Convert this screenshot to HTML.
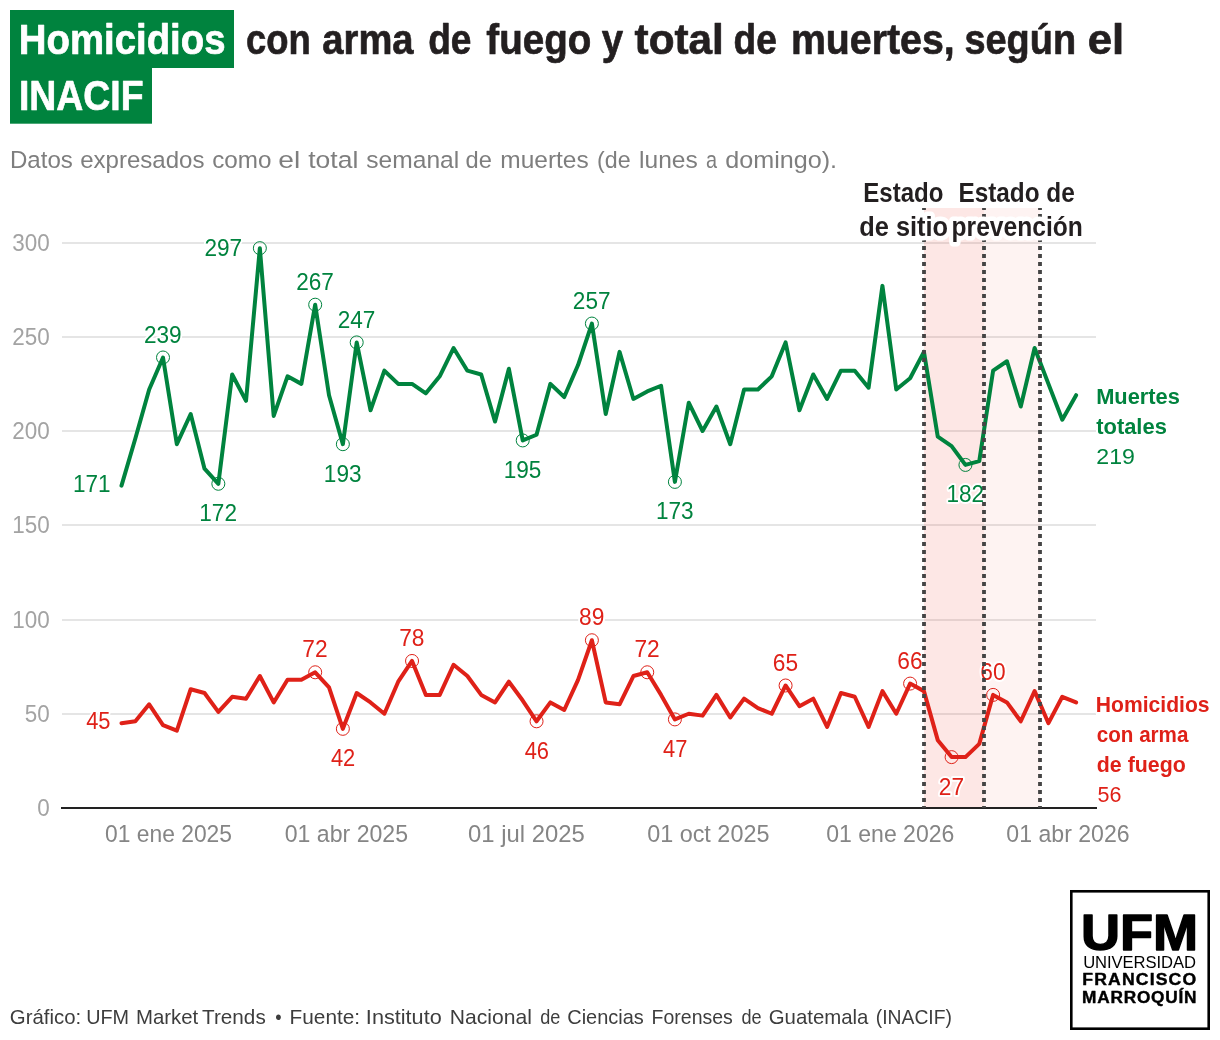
<!DOCTYPE html>
<html lang="es">
<head>
<meta charset="utf-8">
<title>Homicidios con arma de fuego y total de muertes, según el INACIF</title>
<style>
html,body{margin:0;padding:0;background:#fff}
body{width:1220px;height:1040px;overflow:hidden;font-family:"Liberation Sans",sans-serif}
svg{display:block;font-family:"Liberation Sans",sans-serif}
text{white-space:pre}
</style>
</head>
<body>
<svg width="1220" height="1040" viewBox="0 0 1220 1040">
<rect width="1220" height="1040" fill="#fff"/>
<!-- headline -->
<g id="headline">
<rect x="10" y="10" width="224" height="58" fill="#00833e"/>
<rect x="10" y="67" width="142" height="56.7" fill="#00833e"/>
<g font-size="43.03" fill="#fff" font-weight="700" stroke="#fff" stroke-width="0.7" stroke-linejoin="round">
<text x="18.87" y="53.8" textLength="206.61" lengthAdjust="spacingAndGlyphs">Homicidios</text>
<text x="18.91" y="109.7" textLength="124.65" lengthAdjust="spacingAndGlyphs">INACIF</text>
</g>
<g font-size="43.03" fill="#231f20" font-weight="700" stroke="#231f20" stroke-width="0.7" stroke-linejoin="round">
<text x="246" y="53.8" textLength="64.77" lengthAdjust="spacingAndGlyphs">con</text>
<text x="322.36" y="53.8" textLength="91.23" lengthAdjust="spacingAndGlyphs">arma</text>
<text x="428.19" y="53.8" textLength="43.26" lengthAdjust="spacingAndGlyphs">de</text>
<text x="486.35" y="53.8" textLength="104.94" lengthAdjust="spacingAndGlyphs">fuego</text>
<text x="601.85" y="53.8" textLength="21.43" lengthAdjust="spacingAndGlyphs">y</text>
<text x="634.55" y="53.8" textLength="89.3" lengthAdjust="spacingAndGlyphs">total</text>
<text x="733.59" y="53.8" textLength="43.26" lengthAdjust="spacingAndGlyphs">de</text>
<text x="790.92" y="53.8" textLength="163.81" lengthAdjust="spacingAndGlyphs">muertes,</text>
<text x="964.47" y="53.8" textLength="111.59" lengthAdjust="spacingAndGlyphs">según</text>
<text x="1087.73" y="53.8" textLength="36.52" lengthAdjust="spacingAndGlyphs">el</text>
</g>
</g>
<!-- description -->
<g id="description">
<g font-size="24.65" fill="#7e7e7e">
<text x="9.95" y="167.8" textLength="62.86" lengthAdjust="spacingAndGlyphs">Datos</text>
<text x="80.22" y="167.8" textLength="124.28" lengthAdjust="spacingAndGlyphs">expresados</text>
<text x="212.22" y="167.8" textLength="59.27" lengthAdjust="spacingAndGlyphs">como</text>
<text x="278.36" y="167.8" textLength="21.93" lengthAdjust="spacingAndGlyphs">el</text>
<text x="308.2" y="167.8" textLength="50.08" lengthAdjust="spacingAndGlyphs">total</text>
<text x="366.3" y="167.8" textLength="92.87" lengthAdjust="spacingAndGlyphs">semanal</text>
<text x="465.54" y="167.8" textLength="26.33" lengthAdjust="spacingAndGlyphs">de</text>
<text x="500.31" y="167.8" textLength="88.4" lengthAdjust="spacingAndGlyphs">muertes</text>
<text x="597.06" y="167.8" textLength="33.6" lengthAdjust="spacingAndGlyphs">(de</text>
<text x="639.1" y="167.8" textLength="58.71" lengthAdjust="spacingAndGlyphs">lunes</text>
<text x="705.99" y="167.8" textLength="11.06" lengthAdjust="spacingAndGlyphs">a</text>
<text x="725.28" y="167.8" textLength="111.8" lengthAdjust="spacingAndGlyphs">domingo).</text>
</g>
</g>
<!-- chart -->
<g id="chart">
<g id="grid" stroke="#e5e5e5" stroke-width="2" shape-rendering="crispEdges">
<line x1="62" x2="1096" y1="714" y2="714"/>
<line x1="62" x2="1096" y1="620" y2="620"/>
<line x1="62" x2="1096" y1="525" y2="525"/>
<line x1="62" x2="1096" y1="431" y2="431"/>
<line x1="62" x2="1096" y1="337" y2="337"/>
<line x1="62" x2="1096" y1="243" y2="243"/>
</g>
<g id="range-annotations" fill="#ee3726">
<rect x="924" y="208" width="60" height="600" fill-opacity="0.12"/>
<rect x="984" y="208" width="56" height="600" fill-opacity="0.06"/>
</g>
<g id="y-axis">
<g font-size="24.48" fill="#a3a3a3">
<text x="37.27" y="815.7" textLength="12.49" lengthAdjust="spacingAndGlyphs">0</text>
<text x="24.79" y="721.7" textLength="24.97" lengthAdjust="spacingAndGlyphs">50</text>
<text x="12.3" y="627.7" textLength="37.46" lengthAdjust="spacingAndGlyphs">100</text>
<text x="12.3" y="532.7" textLength="37.46" lengthAdjust="spacingAndGlyphs">150</text>
<text x="12.3" y="438.7" textLength="37.46" lengthAdjust="spacingAndGlyphs">200</text>
<text x="12.3" y="344.7" textLength="37.46" lengthAdjust="spacingAndGlyphs">250</text>
<text x="12.3" y="250.7" textLength="37.46" lengthAdjust="spacingAndGlyphs">300</text>
</g>
</g>
<g id="x-axis">
<g font-size="24.3" fill="#858585">
<text x="105.05" y="841.7" textLength="126.98" lengthAdjust="spacingAndGlyphs">01 ene 2025</text>
<text x="284.75" y="841.7" textLength="123.29" lengthAdjust="spacingAndGlyphs">01 abr 2025</text>
<text x="468.05" y="841.7" textLength="116.7" lengthAdjust="spacingAndGlyphs">01 jul 2025</text>
<text x="647.15" y="841.7" textLength="122.29" lengthAdjust="spacingAndGlyphs">01 oct 2025</text>
<text x="826.25" y="841.7" textLength="128.09" lengthAdjust="spacingAndGlyphs">01 ene 2026</text>
<text x="1006.35" y="841.7" textLength="123.29" lengthAdjust="spacingAndGlyphs">01 abr 2026</text>
</g>
</g>
<line id="baseline" x1="61" x2="1097" y1="808" y2="808" stroke="#222" stroke-width="2" shape-rendering="crispEdges"/>
<g id="lines" fill="none" stroke-width="4" stroke-linejoin="round" stroke-linecap="round">
<path stroke="#00833e" d="M121.5,485.67 L135.34,438.54 L149.17,389.53 L163,357.49 L176.84,444.19 L190.68,414.04 L204.51,468.7 L218.34,483.78 L232.18,374.45 L246.02,400.84 L259.85,248.15 L273.69,415.92 L287.52,376.33 L301.36,383.88 L315.19,304.7 L329.02,395.19 L342.86,444.19 L356.7,342.4 L370.53,410.26 L384.37,370.68 L398.2,383.88 L412.04,383.88 L425.87,393.3 L439.71,376.33 L453.54,348.06 L467.38,370.68 L481.21,374.45 L495.05,421.57 L508.88,368.8 L522.72,440.43 L536.55,434.77 L550.38,383.88 L564.22,397.07 L578.06,365.02 L591.89,323.56 L605.73,414.04 L619.56,351.83 L633.39,398.95 L647.23,391.42 L661.07,385.76 L674.9,481.89 L688.74,402.73 L702.57,431 L716.41,406.5 L730.24,444.19 L744.08,389.53 L757.91,389.53 L771.75,376.33 L785.58,342.4 L799.42,410.26 L813.25,374.45 L827.09,398.95 L840.92,370.68 L854.75,370.68 L868.59,387.64 L882.43,285.86 L896.26,389.53 L910.1,378.22 L923.93,351.83 L937.77,436.65 L951.6,446.08 L965.44,464.93 L979.27,461.16 L993.11,370.68 L1006.94,361.25 L1020.78,406.5 L1034.61,348.06 L1048.45,383.88 L1062.28,419.69 L1076.12,395.19"/>
<path stroke="#df2118" d="M121.5,723.17 L135.34,721.29 L149.17,704.33 L163,725.06 L176.84,730.72 L190.68,689.25 L204.51,693.01 L218.34,711.87 L232.18,696.78 L246.02,698.67 L259.85,676.05 L273.69,702.44 L287.52,679.82 L301.36,679.82 L315.19,672.28 L329.02,687.36 L342.86,728.83 L356.7,693.01 L370.53,702.44 L384.37,713.75 L398.2,681.71 L412.04,660.97 L425.87,694.9 L439.71,694.9 L453.54,664.74 L467.38,676.05 L481.21,694.9 L495.05,702.44 L508.88,681.71 L522.72,700.55 L536.55,721.29 L550.38,702.44 L564.22,709.98 L578.06,679.82 L591.89,640.24 L605.73,702.44 L619.56,704.33 L633.39,676.05 L647.23,672.28 L661.07,694.9 L674.9,719.4 L688.74,713.75 L702.57,715.63 L716.41,694.9 L730.24,717.52 L744.08,698.67 L757.91,708.1 L771.75,713.75 L785.58,685.48 L799.42,706.21 L813.25,698.67 L827.09,726.94 L840.92,693.01 L854.75,696.78 L868.59,726.94 L882.43,691.13 L896.26,713.75 L910.1,683.59 L923.93,691.13 L937.77,740.14 L951.6,757.11 L965.44,757.11 L979.27,743.91 L993.11,694.9 L1006.94,702.44 L1020.78,721.29 L1034.61,691.13 L1048.45,723.17 L1062.28,696.78 L1076.12,702.44"/>
</g>
<g id="markers" fill="none" stroke-width="1">
<g stroke="#00833e">
<circle cx="163" cy="357.49" r="6.5"/>
<circle cx="218.34" cy="483.78" r="6.5"/>
<circle cx="259.85" cy="248.15" r="6.5"/>
<circle cx="315.19" cy="304.7" r="6.5"/>
<circle cx="342.86" cy="444.19" r="6.5"/>
<circle cx="356.7" cy="342.4" r="6.5"/>
<circle cx="522.72" cy="440.43" r="6.5"/>
<circle cx="591.89" cy="323.56" r="6.5"/>
<circle cx="674.9" cy="481.89" r="6.5"/>
<circle cx="965.44" cy="464.93" r="6.5"/>
</g>
<g stroke="#df2118">
<circle cx="315.19" cy="672.28" r="6.5"/>
<circle cx="342.86" cy="728.83" r="6.5"/>
<circle cx="412.04" cy="660.97" r="6.5"/>
<circle cx="536.55" cy="721.29" r="6.5"/>
<circle cx="591.89" cy="640.24" r="6.5"/>
<circle cx="647.23" cy="672.28" r="6.5"/>
<circle cx="674.9" cy="719.4" r="6.5"/>
<circle cx="785.58" cy="685.48" r="6.5"/>
<circle cx="910.1" cy="683.59" r="6.5"/>
<circle cx="951.6" cy="757.11" r="6.5"/>
<circle cx="993.11" cy="694.9" r="6.5"/>
</g>
</g>
<g id="value-labels">
<g font-size="24.48" fill="#00833e" stroke="#fff" stroke-width="4" stroke-linejoin="round" paint-order="stroke">
<text x="143.98" y="342.69" textLength="37.68" lengthAdjust="spacingAndGlyphs">239</text>
<text x="296.17" y="289.9" textLength="37.68" lengthAdjust="spacingAndGlyphs">267</text>
<text x="337.67" y="327.6" textLength="37.68" lengthAdjust="spacingAndGlyphs">247</text>
<text x="572.87" y="308.75" textLength="37.68" lengthAdjust="spacingAndGlyphs">257</text>
<text x="199.32" y="521.18" textLength="37.68" lengthAdjust="spacingAndGlyphs">172</text>
<text x="323.84" y="481.59" textLength="37.68" lengthAdjust="spacingAndGlyphs">193</text>
<text x="503.69" y="477.82" textLength="37.68" lengthAdjust="spacingAndGlyphs">195</text>
<text x="655.88" y="519.29" textLength="37.68" lengthAdjust="spacingAndGlyphs">173</text>
<text x="946.41" y="502.33" textLength="37.68" lengthAdjust="spacingAndGlyphs">182</text>
<text x="204.38" y="256.35" textLength="37.68" lengthAdjust="spacingAndGlyphs">297</text>
<text x="72.98" y="491.9" textLength="37.58" lengthAdjust="spacingAndGlyphs">171</text>
</g>
<g font-size="24.48" fill="#df2118" stroke="#fff" stroke-width="4" stroke-linejoin="round" paint-order="stroke">
<text x="302.36" y="657.48" textLength="25.29" lengthAdjust="spacingAndGlyphs">72</text>
<text x="399.21" y="646.17" textLength="25.29" lengthAdjust="spacingAndGlyphs">78</text>
<text x="579.06" y="625.44" textLength="25.29" lengthAdjust="spacingAndGlyphs">89</text>
<text x="634.4" y="657.48" textLength="25.29" lengthAdjust="spacingAndGlyphs">72</text>
<text x="772.75" y="670.68" textLength="25.29" lengthAdjust="spacingAndGlyphs">65</text>
<text x="897.27" y="668.79" textLength="25.29" lengthAdjust="spacingAndGlyphs">66</text>
<text x="980.28" y="680.1" textLength="25.29" lengthAdjust="spacingAndGlyphs">60</text>
<text x="330.96" y="766.23" textLength="24.34" lengthAdjust="spacingAndGlyphs">42</text>
<text x="524.65" y="758.69" textLength="24.34" lengthAdjust="spacingAndGlyphs">46</text>
<text x="663" y="756.8" textLength="24.34" lengthAdjust="spacingAndGlyphs">47</text>
<text x="938.77" y="794.5" textLength="25.29" lengthAdjust="spacingAndGlyphs">27</text>
<text x="86.2" y="729.1" textLength="24.34" lengthAdjust="spacingAndGlyphs">45</text>
</g>
</g>
<g id="range-lines" stroke="#444" stroke-width="3.8" stroke-dasharray="3.8 4.2" stroke-dashoffset="1.9" fill="none">
<line x1="924" x2="924" y1="208" y2="808"/>
<line x1="984" x2="984" y1="208" y2="808"/>
<line x1="1040" x2="1040" y1="208" y2="808"/>
</g>
<g id="series-labels">
<g font-size="22.6" fill="#00833e" font-weight="700" stroke="#fff" stroke-width="4" stroke-linejoin="round" paint-order="stroke">
<text x="1096.13" y="403.8" textLength="83.71" lengthAdjust="spacingAndGlyphs">Muertes</text>
<text x="1096.2" y="433.5" textLength="70.65" lengthAdjust="spacingAndGlyphs">totales</text>
</g>
<g font-size="22.8" fill="#00833e" stroke="#fff" stroke-width="4" stroke-linejoin="round" paint-order="stroke">
<text x="1096.29" y="463.7" textLength="38.6" lengthAdjust="spacingAndGlyphs">219</text>
</g>
<g font-size="22.6" fill="#df2118" font-weight="700" stroke="#fff" stroke-width="4" stroke-linejoin="round" paint-order="stroke">
<text x="1095.87" y="711.6" textLength="113.66" lengthAdjust="spacingAndGlyphs">Homicidios</text>
<text x="1096.8" y="741.7" textLength="91.6" lengthAdjust="spacingAndGlyphs">con arma</text>
<text x="1096.8" y="771.5" textLength="88.96" lengthAdjust="spacingAndGlyphs">de fuego</text>
</g>
<g font-size="22.8" fill="#df2118" stroke="#fff" stroke-width="4" stroke-linejoin="round" paint-order="stroke">
<text x="1097.5" y="801.8" textLength="23.94" lengthAdjust="spacingAndGlyphs">56</text>
</g>
</g>
<g id="text-annotations">
<g font-size="27.38" fill="#231f20" font-weight="700" stroke="#fff" stroke-width="9" stroke-linejoin="round" paint-order="stroke">
<text x="863.22" y="202" textLength="80.21" lengthAdjust="spacingAndGlyphs">Estado</text>
<text x="859.27" y="236.4" textLength="88.8" lengthAdjust="spacingAndGlyphs">de sitio</text>
<text x="958.41" y="202" textLength="116.39" lengthAdjust="spacingAndGlyphs">Estado de</text>
<text x="951.6" y="236.4" textLength="131.15" lengthAdjust="spacingAndGlyphs">prevención</text>
</g>
</g>
</g>
<!-- footer -->
<g id="footer">
<g font-size="20.9" fill="#3d3d3d">
<text x="9.82" y="1023.5" textLength="71.33" lengthAdjust="spacingAndGlyphs">Gráfico:</text>
<text x="86.15" y="1023.5" textLength="42.88" lengthAdjust="spacingAndGlyphs">UFM</text>
<text x="135.92" y="1023.5" textLength="62.28" lengthAdjust="spacingAndGlyphs">Market</text>
<text x="202.1" y="1023.5" textLength="63.64" lengthAdjust="spacingAndGlyphs">Trends</text>
<text x="275.2" y="1023.5" textLength="6.37" lengthAdjust="spacingAndGlyphs">•</text>
<text x="289.6" y="1023.5" textLength="70.49" lengthAdjust="spacingAndGlyphs">Fuente:</text>
<text x="365.86" y="1023.5" textLength="75.88" lengthAdjust="spacingAndGlyphs">Instituto</text>
<text x="449.89" y="1023.5" textLength="82.06" lengthAdjust="spacingAndGlyphs">Nacional</text>
<text x="540.2" y="1023.5" textLength="20.14" lengthAdjust="spacingAndGlyphs">de</text>
<text x="567.24" y="1023.5" textLength="76.58" lengthAdjust="spacingAndGlyphs">Ciencias</text>
<text x="651.57" y="1023.5" textLength="81.25" lengthAdjust="spacingAndGlyphs">Forenses</text>
<text x="741.5" y="1023.5" textLength="20.14" lengthAdjust="spacingAndGlyphs">de</text>
<text x="768.72" y="1023.5" textLength="99.7" lengthAdjust="spacingAndGlyphs">Guatemala</text>
<text x="875.78" y="1023.5" textLength="76.21" lengthAdjust="spacingAndGlyphs">(INACIF)</text>
</g>
</g>
<!-- logo -->
<g id="logo">
<rect x="1071.3" y="891.3" width="137.4" height="137.4" fill="#fff" stroke="#000" stroke-width="2.6"/>
<g font-size="50" fill="#000" font-weight="700" stroke="#000" stroke-width="1.4" stroke-linejoin="round">
<text x="1080.95" y="950" textLength="117.22" lengthAdjust="spacingAndGlyphs">UFM</text>
</g>
<g font-size="16.6" fill="#000">
<text x="1083.2" y="967.6" letter-spacing="-0.06">UNIVERSIDAD</text>
</g>
<g font-size="15.6" fill="#000" font-weight="700" stroke="#000" stroke-width="0.4" stroke-linejoin="round">
<text x="1082.37" y="984.7" letter-spacing="1" textLength="114.91" lengthAdjust="spacingAndGlyphs">FRANCISCO</text>
<text x="1082.09" y="1002.7" letter-spacing="0.7" textLength="115.17" lengthAdjust="spacingAndGlyphs">MARROQUÍN</text>
</g>
</g>
</svg>
</body>
</html>
